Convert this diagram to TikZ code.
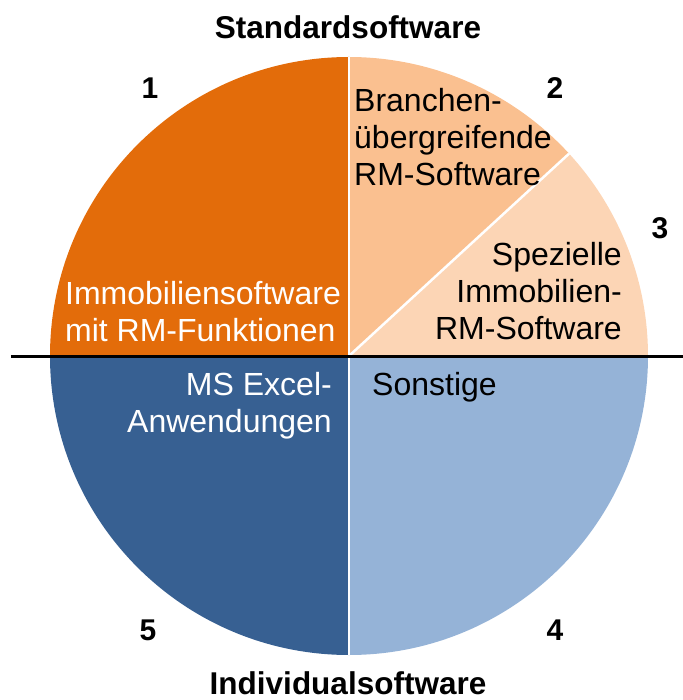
\documentclass[tikz,border=0pt]{standalone}
\usepackage{fontspec}
\setmainfont{Liberation Sans}
\usepackage{xcolor}
\definecolor{sectorA}{RGB}{227,108,10}
\definecolor{sectorB}{RGB}{250,192,144}
\definecolor{sectorC}{RGB}{252,213,181}
\definecolor{sectorD}{RGB}{149,179,215}
\definecolor{sectorE}{RGB}{55,96,146}
\tikzset{
	seglabel/.style={font=\fontsize{32bp}{37bp}\selectfont, inner sep=0pt},
	numlabel/.style={font=\fontsize{30bp}{36bp}\selectfont\bfseries, inner sep=0pt},
	headlabel/.style={font=\fontsize{31.5bp}{36bp}\selectfont\bfseries, inner sep=0pt}
}

\begin{document}
\begin{tikzpicture}[x=1bp,y=1bp]
	\def\r{299}
	\def\cut{42.6}
	\useasboundingbox (-349,-344) rectangle (334,356);

	% Sectors
	\fill[sectorA] (0,0) -- (90:\r) arc[start angle=90, end angle=180, radius=\r] -- cycle;
	\fill[sectorB] (0,0) -- (\cut:\r) arc[start angle=\cut, end angle=90, radius=\r] -- cycle;
	\fill[sectorC] (0,0) -- (0:\r) arc[start angle=0, end angle=\cut, radius=\r] -- cycle;
	\fill[sectorD] (0,0) -- (270:\r) arc[start angle=270, end angle=360, radius=\r] -- cycle;
	\fill[sectorE] (0,0) -- (180:\r) arc[start angle=180, end angle=270, radius=\r] -- cycle;

	% Separators
	\draw[white, line width=2.5bp] (90:\r) -- (270:\r);
	\draw[white, line width=2.5bp] (0,0) -- (\cut:\r);
	\draw[black, line width=3bp] (-338,-1) -- (334,-1);

	% Headings
	\node[headlabel] (std) at (-1,329) {Standardsoftware};
	\node[headlabel] (ind) at (-1,-327) {Individualsoftware};

	% Numbers
	\node[numlabel] (n1) at (-199,268) {1};
	\node[numlabel] (n2) at (206,268) {2};
	\node[numlabel] (n3) at (311,128) {3};
	\node[numlabel] (n4) at (206,-274) {4};
	\node[numlabel] (n5) at (-201,-274) {5};

	% Sector texts
	\node[seglabel, anchor=west, align=left, text=white] (immo) at (-284,44) {Immobiliensoftware\\mit RM-Funktionen};
	\node[seglabel, anchor=west, align=left] (branche) at (5,219) {Branchen-\\übergreifende\\RM-Software};
	\node[seglabel, anchor=east, align=right] (spezial) at (273,65) {Spezielle\\Immobilien-\\RM-Software};
	\node[seglabel, anchor=west] (sonst) at (23,-31) {Sonstige};
	\node[seglabel, anchor=east, align=right, text=white] (excel) at (-17,-50) {MS Excel-\\Anwendungen};
\end{tikzpicture}
\end{document}
